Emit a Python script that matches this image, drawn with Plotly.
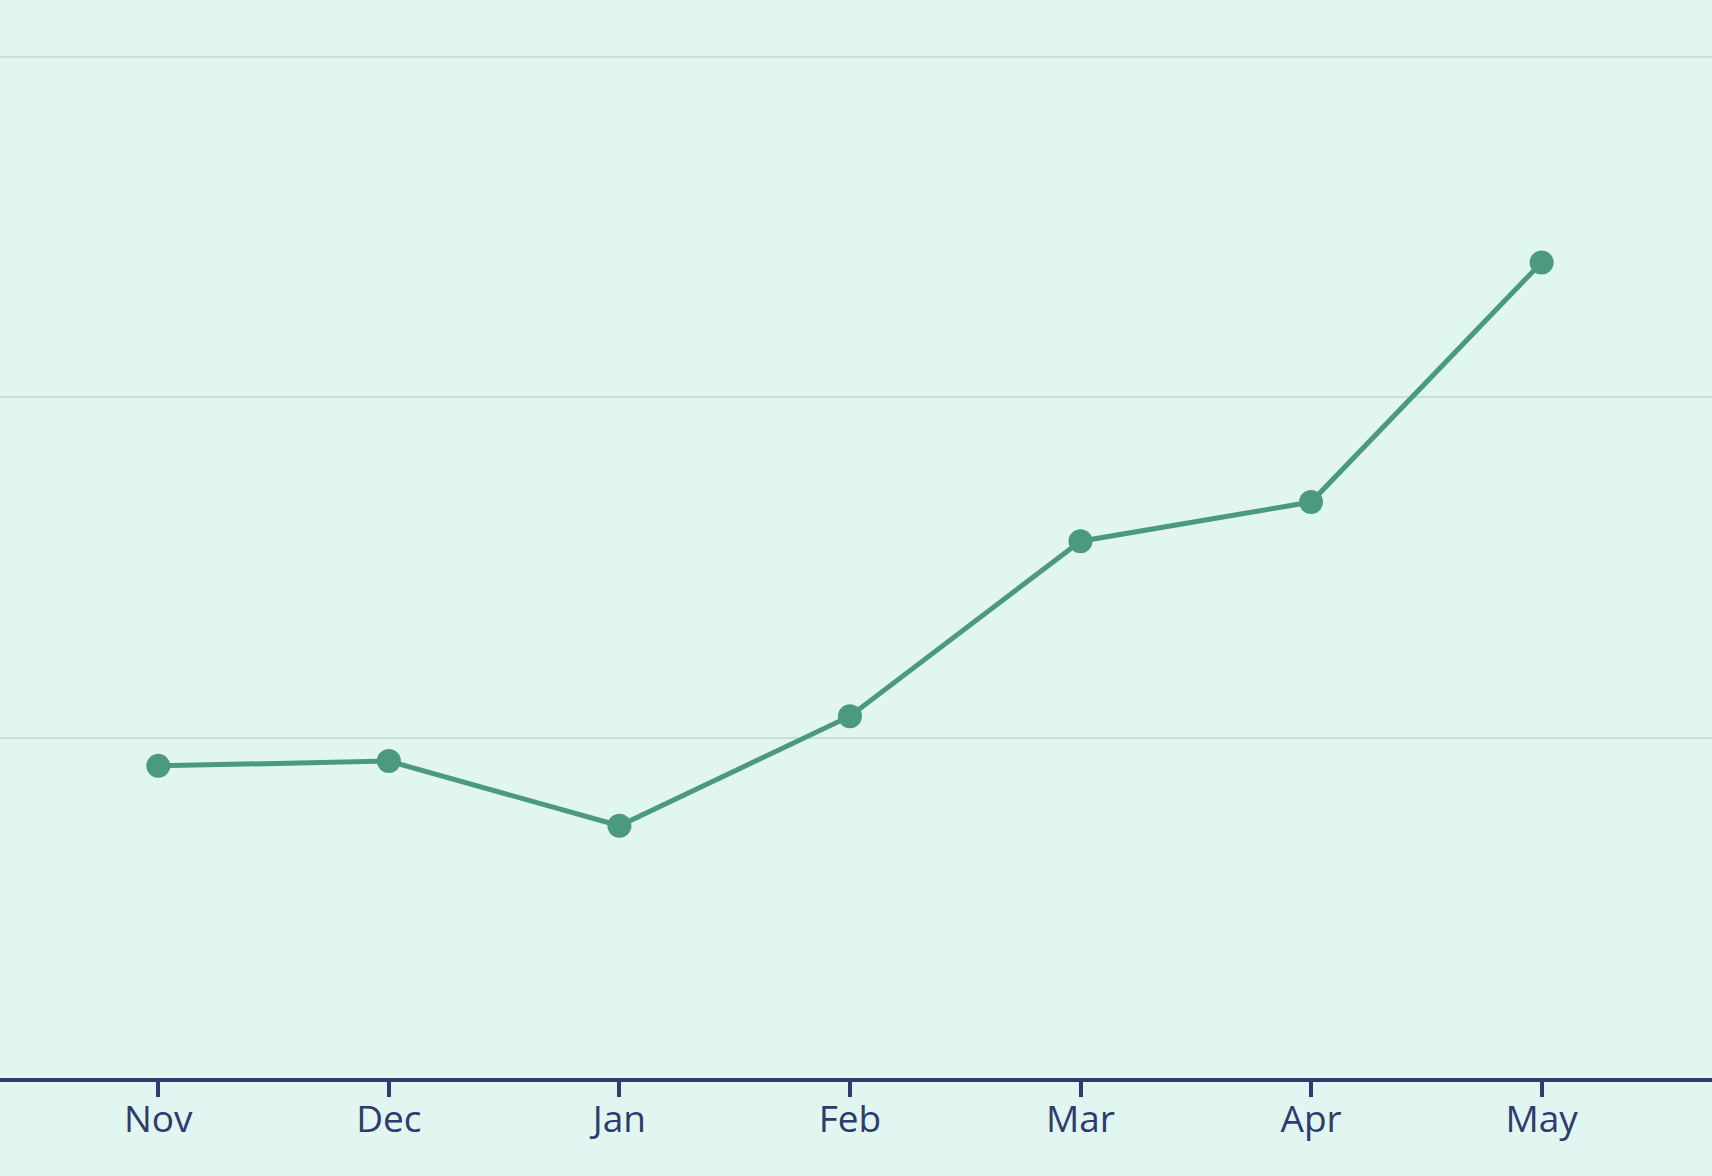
import plotly.graph_objects as go

months = ["Nov", "Dec", "Jan", "Feb", "Mar", "Apr", "May"]
values = [9.17, 9.31, 7.41, 10.63, 15.77, 16.92, 23.96]

BG = "#e1f6f0"
LINE = "#4b9a7d"
AXIS = "#2f3b6e"

fig = go.Figure()
fig.add_trace(go.Scatter(
    x=list(range(len(months))),
    y=values,
    mode="lines+markers",
    line=dict(color=LINE, width=5),
    marker=dict(color=LINE, size=24),
    showlegend=False,
    hoverinfo="skip",
))

fig.update_layout(
    width=1712,
    height=1176,
    margin=dict(l=0, r=0, t=0, b=98),
    paper_bgcolor=BG,
    plot_bgcolor=BG,
    font=dict(family="Open Sans", color=AXIS, size=37),
)
fig.update_xaxes(
    tickmode="array",
    tickvals=list(range(len(months))),
    ticktext=months,
    range=[-0.6866, 6.739],
    showgrid=False,
    zeroline=False,
    showline=True,
    linecolor=AXIS,
    linewidth=4,
    ticks="outside",
    ticklen=15,
    tickwidth=4,
    tickcolor=AXIS,
    ticklabelstandoff=-9,
    tickfont=dict(family="Open Sans", size=37, color=AXIS),
)
fig.update_yaxes(
    range=[0, 31.67],
    dtick=10,
    tick0=0,
    showticklabels=False,
    showgrid=True,
    gridcolor="#c6dfda",
    gridwidth=2,
    zeroline=False,
    showline=False,
    ticks="",
)

fig.write_html("out.html")
